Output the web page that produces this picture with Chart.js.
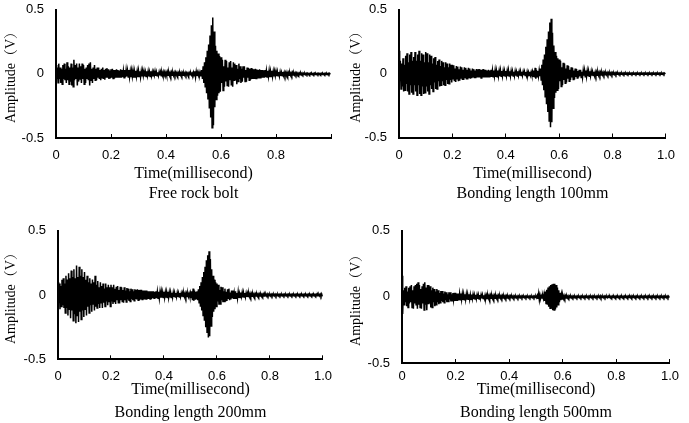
<!DOCTYPE html>
<html>
<head>
<meta charset="utf-8">
<script src="https://cdn.jsdelivr.net/npm/chart.js@4.4.0/dist/chart.umd.min.js"></script>
<style>
	html, body { margin: 0; padding: 0; background: #fff; overflow: hidden; }
	body { width: 689px; height: 423px; position: relative; }
	.panel { position: absolute; }
</style>
</head>
<body>
<div class="panel" style="left:0px;top:-10px;width:345px;height:221px"><canvas id="freeChart"></canvas></div>
<div class="panel" style="left:345px;top:-10px;width:344px;height:221px"><canvas id="bond100Chart"></canvas></div>
<div class="panel" style="left:0px;top:211px;width:345px;height:216px"><canvas id="bond200Chart"></canvas></div>
<div class="panel" style="left:345px;top:211px;width:344px;height:216px"><canvas id="bond500Chart"></canvas></div>
<script>
var sampleStep = 0.0025; // ms between samples
var xTicks = [0, 0.2, 0.4, 0.6, 0.8, 1.0];
var yTicks = [-0.5, 0, 0.5];
var xTitle = "Time(millisecond)";
var yTitle = "Amplitude（V）";
var captions = ["Free rock bolt", "Bonding length 100mm", "Bonding length 200mm", "Bonding length 500mm"];

// amplitudes (V), two lines = 0.1 ms
var freeBolt = [
	0.07,-0.04,0.05,-0.07,0.08,-0.04,0.05,-0.07,0.04,-0.08,0.07,-0.04,0.08,-0.05,0.04,-0.07,0.09,-0.05,0.06,-0.08,
	0.05,-0.06,0.08,-0.09,0.05,-0.1,0.11,-0.05,0.07,-0.04,0.08,-0.09,0.05,-0.06,0.08,-0.04,0.06,-0.07,0.08,-0.04,
	0.07,-0.08,0.04,-0.07,0.05,-0.04,0.07,-0.05,0.08,-0.09,0.09,-0.05,0.04,-0.07,0.05,-0.04,0.07,-0.05,0.04,-0.05,
	0.05,-0.03,0.05,-0.04,0.03,-0.05,0.04,-0.03,0.05,-0.04,0.03,-0.045,0.04,-0.025,0.045,-0.03,0.035,-0.04,0.025,-0.035,
	0.035,-0.03,0.04,-0.035,0.03,-0.035,0.03,-0.03,0.035,-0.025,0.03,-0.03,0.025,-0.03,0.035,-0.03,0.03,-0.025,0.025,-0.03,
	0.03,-0.025,0.03,-0.02,0.025,-0.025,0.03,-0.025,0.02,-0.025,0.025,-0.02,0.025,-0.03,0.02,-0.025,0.025,-0.02,0.02,-0.025,
	0.025,-0.02,0.02,-0.025,0.02,-0.02,0.025,-0.015,0.02,-0.02,0.015,-0.02,0.02,-0.015,0.02,-0.02,0.015,-0.02,0.02,-0.015,
	0.015,-0.02,0.015,-0.012,0.02,-0.015,0.015,-0.015,0.012,-0.015,0.015,-0.012,0.015,-0.015,0.012,-0.012,0.015,-0.012,0.012,-0.015,
	0.012,-0.012,0.015,-0.01,0.012,-0.012,0.01,-0.012,0.012,-0.01,0.01,-0.012,0.01,-0.01,0.012,-0.008,0.01,-0.01,0.008,-0.01,
	0.01,-0.008,0.01,-0.01,0.008,-0.01,0.008,-0.008,0.01,-0.008,0.008,-0.008,0.008,-0.01,0.008,-0.006,0.008,-0.008,0.006,-0.008,
	0.012,-0.015,0.02,-0.025,0.018,-0.015,0.012,-0.012,0.015,-0.012,0.01,-0.015,0.03,-0.04,0.06,-0.07,0.09,-0.1,0.13,-0.15,
	0.18,-0.2,0.23,-0.27,0.3,-0.34,0.38,-0.42,0.44,-0.4,0.33,-0.26,0.22,-0.2,0.18,-0.17,0.16,-0.15,0.14,-0.14,
	0.13,-0.07,0.11,-0.13,0.06,-0.1,0.11,-0.06,0.1,-0.09,0.05,-0.1,0.09,-0.05,0.1,-0.09,0.05,-0.1,0.09,-0.05,
	0.08,-0.05,0.07,-0.08,0.04,-0.06,0.08,-0.04,0.06,-0.07,0.04,-0.06,0.06,-0.03,0.06,-0.06,0.03,-0.06,0.05,-0.03,
	0.045,-0.05,0.04,-0.045,0.045,-0.04,0.04,-0.04,0.035,-0.04,0.04,-0.035,0.035,-0.035,0.03,-0.035,0.035,-0.03,0.03,-0.03,
	0.03,-0.03,0.025,-0.03,0.03,-0.025,0.025,-0.025,0.025,-0.02,0.025,-0.025,0.02,-0.02,0.025,-0.02,0.02,-0.02,0.02,-0.015,
	0.02,-0.018,0.018,-0.015,0.015,-0.018,0.015,-0.015,0.012,-0.015,0.015,-0.012,0.012,-0.012,0.01,-0.012,0.012,-0.01,0.01,-0.01,
	0.01,-0.01,0.008,-0.01,0.01,-0.008,0.008,-0.008,0.008,-0.007,0.007,-0.008,0.007,-0.006,0.006,-0.007,0.006,-0.006,0.006,-0.005,
	0.005,-0.005,0.005,-0.005,0.005,-0.004,0.005,-0.005,0.004,-0.005,0.005,-0.004,0.004,-0.005,0.004,-0.004,0.005,-0.004,0.004,-0.004,
	0.004,-0.004,0.004,-0.004,0.004,-0.004,0.004,-0.004,0.004,-0.004,0.004,-0.004,0.004,-0.004,0.004,-0.004,0.004,-0.004,0.004,-0.004
];
var bond100 = [
	0.18,-0.06,0.1,-0.12,0.08,-0.1,0.12,-0.14,0.07,-0.13,0.14,-0.08,0.16,-0.14,0.09,-0.16,0.15,-0.09,0.17,-0.15,
	0.1,-0.16,0.13,-0.09,0.17,-0.14,0.1,-0.17,0.15,-0.09,0.18,-0.16,0.1,-0.17,0.16,-0.1,0.15,-0.16,0.09,-0.15,
	0.17,-0.1,0.16,-0.14,0.09,-0.16,0.15,-0.09,0.14,-0.12,0.08,-0.14,0.12,-0.07,0.13,-0.12,0.07,-0.12,0.1,-0.06,
	0.11,-0.1,0.06,-0.09,0.1,-0.06,0.09,-0.09,0.05,-0.09,0.09,-0.05,0.08,-0.08,0.05,-0.08,0.08,-0.05,0.07,-0.07,
	0.07,-0.04,0.065,-0.06,0.04,-0.065,0.06,-0.04,0.055,-0.06,0.035,-0.055,0.055,-0.035,0.05,-0.05,0.03,-0.05,0.05,-0.03,
	0.045,-0.045,0.03,-0.045,0.045,-0.03,0.04,-0.04,0.025,-0.035,0.04,-0.025,0.035,-0.035,0.025,-0.035,0.035,-0.025,0.035,-0.03,
	0.035,-0.03,0.03,-0.035,0.03,-0.03,0.035,-0.03,0.03,-0.025,0.03,-0.03,0.025,-0.03,0.03,-0.025,0.025,-0.025,0.03,-0.025,
	0.025,-0.025,0.025,-0.02,0.025,-0.025,0.02,-0.025,0.025,-0.02,0.02,-0.02,0.025,-0.02,0.02,-0.02,0.02,-0.02,0.02,-0.018,
	0.02,-0.018,0.02,-0.02,0.025,-0.018,0.018,-0.02,0.02,-0.015,0.018,-0.018,0.015,-0.018,0.018,-0.015,0.015,-0.018,0.018,-0.015,
	0.015,-0.015,0.018,-0.015,0.015,-0.015,0.015,-0.012,0.015,-0.015,0.012,-0.015,0.015,-0.012,0.012,-0.015,0.015,-0.012,0.012,-0.012,
	0.015,-0.02,0.025,-0.03,0.045,-0.04,0.03,-0.025,0.02,-0.02,0.025,-0.02,0.04,-0.05,0.07,-0.09,0.11,-0.13,0.15,-0.18,
	0.21,-0.24,0.27,-0.3,0.33,-0.37,0.4,-0.42,0.43,-0.38,0.32,-0.27,0.22,-0.19,0.17,-0.15,0.14,-0.13,0.12,-0.12,
	0.11,-0.06,0.1,-0.1,0.05,-0.09,0.085,-0.05,0.08,-0.075,0.04,-0.07,0.065,-0.04,0.06,-0.06,0.03,-0.05,0.05,-0.03,
	0.045,-0.045,0.025,-0.045,0.04,-0.025,0.035,-0.035,0.02,-0.03,0.03,-0.02,0.03,-0.03,0.015,-0.03,0.025,-0.015,0.025,-0.025,
	0.025,-0.022,0.022,-0.02,0.02,-0.02,0.018,-0.018,0.018,-0.015,0.015,-0.015,0.015,-0.015,0.012,-0.013,0.012,-0.012,0.012,-0.012,
	0.01,-0.011,0.01,-0.01,0.01,-0.009,0.009,-0.009,0.008,-0.009,0.008,-0.008,0.008,-0.008,0.007,-0.008,0.007,-0.007,0.007,-0.007,
	0.007,-0.006,0.006,-0.006,0.006,-0.006,0.006,-0.005,0.006,-0.005,0.005,-0.005,0.005,-0.005,0.005,-0.005,0.005,-0.005,0.005,-0.005,
	0.005,-0.004,0.005,-0.004,0.004,-0.005,0.004,-0.004,0.004,-0.004,0.004,-0.004,0.004,-0.004,0.004,-0.004,0.004,-0.004,0.004,-0.004,
	0.004,-0.004,0.004,-0.004,0.004,-0.004,0.004,-0.004,0.004,-0.004,0.004,-0.004,0.004,-0.004,0.004,-0.004,0.004,-0.004,0.004,-0.004,
	0.004,-0.004,0.004,-0.004,0.004,-0.004,0.004,-0.004,0.004,-0.004,0.004,-0.004,0.004,-0.004,0.004,-0.004,0.004,-0.004,0.004,-0.004
];
var bond200 = [
	0.1,-0.06,0.09,-0.11,0.07,-0.09,0.12,-0.08,0.13,-0.1,0.09,-0.14,0.15,-0.1,0.12,-0.16,0.17,-0.11,0.13,-0.18,
	0.19,-0.12,0.14,-0.2,0.2,-0.15,0.13,-0.22,0.23,-0.16,0.14,-0.21,0.22,-0.13,0.15,-0.19,0.2,-0.12,0.14,-0.17,
	0.18,-0.11,0.12,-0.16,0.15,-0.09,0.1,-0.14,0.13,-0.08,0.09,-0.13,0.12,-0.07,0.1,-0.12,0.15,-0.09,0.08,-0.1,
	0.11,-0.07,0.06,-0.1,0.1,-0.06,0.07,-0.1,0.09,-0.06,0.05,-0.09,0.09,-0.05,0.06,-0.08,0.08,-0.05,0.06,-0.09,
	0.08,-0.05,0.06,-0.07,0.08,-0.05,0.05,-0.07,0.065,-0.04,0.07,-0.06,0.04,-0.065,0.065,-0.04,0.06,-0.05,0.04,-0.06,
	0.06,-0.04,0.035,-0.055,0.055,-0.035,0.05,-0.045,0.03,-0.05,0.05,-0.03,0.045,-0.04,0.03,-0.045,0.045,-0.03,0.04,-0.035,
	0.045,-0.04,0.04,-0.04,0.04,-0.035,0.04,-0.035,0.035,-0.035,0.035,-0.035,0.035,-0.03,0.035,-0.03,0.03,-0.03,0.03,-0.03,
	0.03,-0.03,0.03,-0.025,0.03,-0.025,0.025,-0.025,0.03,-0.025,0.025,-0.025,0.025,-0.025,0.025,-0.02,0.025,-0.02,0.02,-0.02,
	0.025,-0.02,0.02,-0.02,0.022,-0.02,0.025,-0.02,0.02,-0.018,0.02,-0.02,0.018,-0.018,0.02,-0.015,0.018,-0.015,0.015,-0.015,
	0.018,-0.015,0.015,-0.015,0.015,-0.014,0.014,-0.013,0.015,-0.012,0.013,-0.012,0.012,-0.013,0.012,-0.012,0.012,-0.012,0.012,-0.012,
	0.015,-0.02,0.03,-0.04,0.05,-0.045,0.035,-0.03,0.025,-0.03,0.03,-0.04,0.045,-0.06,0.07,-0.09,0.1,-0.12,0.14,-0.16,
	0.18,-0.2,0.22,-0.25,0.27,-0.29,0.31,-0.33,0.34,-0.32,0.28,-0.24,0.2,-0.17,0.15,-0.13,0.12,-0.11,0.1,-0.09,
	0.09,-0.05,0.08,-0.075,0.04,-0.07,0.065,-0.04,0.06,-0.055,0.03,-0.05,0.05,-0.05,0.025,-0.045,0.045,-0.025,0.05,-0.04,
	0.02,-0.035,0.035,-0.02,0.035,-0.03,0.015,-0.03,0.03,-0.025,0.015,-0.025,0.025,-0.022,0.012,-0.02,0.02,-0.012,0.02,-0.018,
	0.018,-0.016,0.015,-0.015,0.015,-0.014,0.013,-0.012,0.012,-0.012,0.011,-0.01,0.01,-0.01,0.01,-0.009,0.009,-0.009,0.008,-0.008,
	0.008,-0.008,0.008,-0.008,0.008,-0.007,0.007,-0.008,0.007,-0.007,0.007,-0.007,0.007,-0.006,0.006,-0.007,0.007,-0.006,0.006,-0.006,
	0.006,-0.006,0.006,-0.006,0.006,-0.006,0.006,-0.005,0.006,-0.006,0.005,-0.006,0.006,-0.005,0.005,-0.005,0.005,-0.006,0.005,-0.005,
	0.005,-0.005,0.005,-0.005,0.005,-0.005,0.005,-0.005,0.005,-0.005,0.005,-0.005,0.005,-0.005,0.005,-0.005,0.005,-0.005,0.005,-0.005,
	0.005,-0.005,0.005,-0.005,0.005,-0.005,0.005,-0.005,0.005,-0.005,0.005,-0.005,0.005,-0.005,0.005,-0.005,0.005,-0.005,0.005,-0.005,
	0.005,-0.005,0.005,-0.005,0.005,-0.005,0.005,-0.005,0.005,-0.005,0.005,-0.005,0.005,-0.005,0.005,-0.006,0.006,-0.007,0.008,-0.01
];
var bond500 = [
	0.16,-0.13,0.05,-0.06,0.07,-0.04,0.08,-0.07,0.04,-0.08,0.07,-0.05,0.08,-0.04,0.09,-0.08,0.05,-0.09,0.08,-0.05,
	0.09,-0.06,0.1,-0.09,0.11,-0.06,0.09,-0.08,0.06,-0.09,0.08,-0.05,0.1,-0.1,0.11,-0.06,0.07,-0.1,0.09,-0.05,
	0.09,-0.05,0.08,-0.08,0.05,-0.08,0.07,-0.04,0.06,-0.07,0.04,-0.06,0.06,-0.04,0.05,-0.055,0.03,-0.045,0.045,-0.03,
	0.045,-0.04,0.025,-0.045,0.04,-0.025,0.035,-0.04,0.02,-0.035,0.035,-0.02,0.035,-0.035,0.02,-0.03,0.03,-0.02,0.03,-0.03,
	0.03,-0.025,0.025,-0.03,0.025,-0.025,0.025,-0.022,0.025,-0.02,0.022,-0.022,0.02,-0.022,0.02,-0.02,0.02,-0.02,0.02,-0.018,
	0.02,-0.018,0.018,-0.018,0.018,-0.015,0.018,-0.016,0.015,-0.016,0.016,-0.015,0.015,-0.015,0.015,-0.015,0.015,-0.013,0.015,-0.012,
	0.015,-0.012,0.012,-0.013,0.013,-0.012,0.012,-0.012,0.012,-0.01,0.011,-0.011,0.012,-0.01,0.01,-0.011,0.01,-0.01,0.01,-0.01,
	0.01,-0.009,0.009,-0.009,0.01,-0.008,0.009,-0.009,0.008,-0.008,0.009,-0.008,0.008,-0.008,0.008,-0.007,0.008,-0.008,0.007,-0.007,
	0.007,-0.007,0.007,-0.007,0.007,-0.006,0.007,-0.006,0.006,-0.006,0.006,-0.006,0.006,-0.006,0.006,-0.006,0.006,-0.005,0.006,-0.005,
	0.006,-0.005,0.005,-0.005,0.005,-0.005,0.005,-0.005,0.005,-0.005,0.005,-0.005,0.005,-0.005,0.005,-0.005,0.005,-0.005,0.005,-0.005,
	0.006,-0.006,0.01,-0.015,0.025,-0.022,0.015,-0.01,0.008,-0.008,0.01,-0.012,0.02,-0.03,0.04,-0.05,0.055,-0.06,0.07,-0.075,
	0.08,-0.085,0.09,-0.09,0.095,-0.1,0.1,-0.1,0.1,-0.095,0.09,-0.08,0.07,-0.06,0.05,-0.04,0.03,-0.025,0.02,-0.015,
	0.012,-0.011,0.01,-0.009,0.008,-0.008,0.007,-0.007,0.007,-0.006,0.006,-0.006,0.006,-0.006,0.006,-0.005,0.005,-0.006,0.005,-0.005,
	0.005,-0.005,0.005,-0.005,0.005,-0.005,0.005,-0.005,0.005,-0.005,0.005,-0.005,0.005,-0.005,0.005,-0.005,0.005,-0.005,0.005,-0.005,
	0.005,-0.005,0.005,-0.005,0.006,-0.005,0.005,-0.005,0.005,-0.005,0.005,-0.005,0.005,-0.005,0.005,-0.005,0.008,-0.006,0.005,-0.005,
	0.005,-0.005,0.005,-0.005,0.005,-0.005,0.005,-0.005,0.005,-0.005,0.005,-0.006,0.005,-0.005,0.005,-0.005,0.005,-0.005,0.005,-0.005,
	0.005,-0.005,0.005,-0.005,0.005,-0.005,0.005,-0.005,0.005,-0.006,0.005,-0.005,0.005,-0.005,0.005,-0.005,0.005,-0.005,0.005,-0.005,
	0.005,-0.005,0.007,-0.005,0.005,-0.005,0.005,-0.005,0.005,-0.005,0.005,-0.005,0.005,-0.005,0.005,-0.005,0.005,-0.005,0.005,-0.005,
	0.005,-0.005,0.005,-0.005,0.005,-0.005,0.005,-0.005,0.006,-0.005,0.005,-0.005,0.005,-0.005,0.005,-0.005,0.005,-0.005,0.005,-0.005,
	0.005,-0.005,0.005,-0.005,0.005,-0.005,0.005,-0.005,0.005,-0.005,0.005,-0.005,0.005,-0.005,0.005,-0.005,0.005,-0.005,0.005,-0.005
];

var serif = "'Liberation Serif', 'Times New Roman', 'Noto Serif CJK SC', 'Noto Sans CJK SC', serif";
var sans = "'Liberation Sans', Arial, sans-serif";

function makeChart(id, values, caption, box) {
	var points = values.map(function(v, i) { return { x: i * sampleStep, y: v }; });
	return new Chart(id, {
		type: "line",
		data: {
			datasets: [{
				data: points,
				borderColor: "#000",
				borderWidth: 1.5,
				pointRadius: 0,
				fill: false,
				tension: 0
			}]
		},
		options: {
			responsive: true,
			maintainAspectRatio: false,
			animation: false,
			events: [],
			layout: { padding: box.pad },
			plugins: {
				legend: { display: false },
				tooltip: { enabled: false }
			},
			scales: {
				x: {
					type: "linear",
					min: 0,
					max: 1,
					afterBuildTicks: function(scale) {
						scale.ticks = xTicks.map(function(v) { return { value: v }; });
					},
					afterFit: function(scale) { scale.height = box.xHeight; },
					ticks: {
						color: "#000",
						padding: box.tickPad,
						maxRotation: 0,
						font: { family: sans, size: 13 },
						callback: function(v) {
							if (box.hideLast && v === 1) return "";
							return v === 0 ? "0" : v.toFixed(1);
						}
					},
					grid: {
						display: true,
						drawOnChartArea: false,
						drawTicks: true,
						tickLength: -4,
						tickColor: "#000",
						tickWidth: 1
					},
					border: { display: true, color: "#000", width: 2 },
					title: {
						display: true,
						text: [xTitle, caption],
						color: "#000",
						padding: { top: 0, bottom: box.capPad },
						font: { family: serif, size: 16, lineHeight: box.capLine + "px" }
					}
				},
				y: {
					min: -0.5,
					max: 0.5,
					afterBuildTicks: function(scale) {
						scale.ticks = yTicks.map(function(v) { return { value: v }; });
					},
					afterFit: function(scale) { scale.width = box.yWidth; },
					ticks: {
						color: "#000",
						padding: 12,
						font: { family: sans, size: 13 }
					},
					grid: { display: false, drawTicks: false },
					border: { display: true, color: "#000", width: 2 },
					title: {
						display: true,
						text: yTitle,
						color: "#000",
						padding: { top: 0, bottom: 0 },
						font: { family: serif, size: 14 }
					}
				}
			}
		}
	});
}

makeChart("freeChart", freeBolt, captions[0],
	{ pad: { left: 3, top: 16, right: 14, bottom: 0 }, yWidth: 53, xHeight: 73, capLine: 20, capPad: 7, tickPad: 14, hideLast: true });
makeChart("bond100Chart", bond100, captions[1],
	{ pad: { left: 3, top: 16, right: 14, bottom: 0 }, yWidth: 51, xHeight: 73.5, capLine: 20, capPad: 7, tickPad: 14 });
makeChart("bond200Chart", bond200, captions[2],
	{ pad: { left: 3, top: 15, right: 11, bottom: 0 }, yWidth: 55, xHeight: 67.7, capLine: 23, capPad: 3, tickPad: 13 });
makeChart("bond500Chart", bond500, captions[3],
	{ pad: { left: 3, top: 18, right: 12, bottom: 0 }, yWidth: 54, xHeight: 64, capLine: 23, capPad: 3, tickPad: 10 });
</script>
</body>
</html>
